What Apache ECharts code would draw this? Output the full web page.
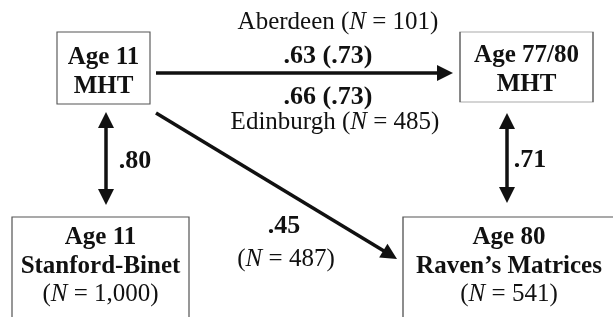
<!DOCTYPE html>
<html>
<head>
<meta charset="utf-8">
<script src="https://cdn.jsdelivr.net/npm/echarts@6/dist/echarts.min.js"></script>
<style>
  html, body { margin: 0; padding: 0; background: #fff; }
  #chart { width: 613px; height: 317px; }
</style>
</head>
<body>
<div id="chart"></div>
<script>
// measures shown in the boxes
const measureAge = ['Age 11', 'Age 77/80', 'Age 11', 'Age 80'];
const measureTest = ['MHT', 'MHT', 'Stanford-Binet', 'Raven\u2019s Matrices'];
const measureN = [null, null, '1,000', '541'];

// Age 11 MHT -> Age 77/80 MHT, per cohort (raw r, corrected r in brackets)
const cohorts = ['Aberdeen', 'Edinburgh'];
const cohortN = [101, 485];
const cohortR = ['.63', '.66'];
const cohortRCorrected = ['.73', '.73'];

// the other paths
const mhtSbR = '.80';        // Age 11 MHT <-> Stanford-Binet
const lateMhtRavenR = '.71'; // Age 77/80 MHT <-> Raven
const mhtRavenR = '.45';     // Age 11 MHT -> Raven
const mhtRavenN = 487;

// ---- layout (pixel space of the 613x317 page, y down) ----
const boxes = [
  { x: 57, y: 32, w: 93, h: 72, pos: 'inside', dy: 4 },
  { x: 460, y: 32, w: 133, h: 70, pos: 'inside', dy: 3 },
  { x: 12, y: 217, w: 177, h: 120, pos: 'insideTop', dy: 0 },
  { x: 403, y: 217, w: 212, h: 120, pos: 'insideTop', dy: 0 }
];
const arrows = [
  { from: [156, 73], to: [453, 73], both: false },
  { from: [106, 112], to: [106, 205], both: true },
  { from: [507, 113], to: [507, 203], both: true },
  { from: [156, 113], to: [397, 259], both: false }
];
const pathLabelPos = [[338, 22], [328, 56], [328, 97], [335, 122], [135, 161], [530, 160], [284, 226], [286, 259]];
const HEAD = [16, 16];

const F = '"Liberation Serif", "Times New Roman", serif';
const INK = '#111';
const rich = {
  b: { fontFamily: F, fontWeight: 'bold', fontSize: 25, lineHeight: 29, color: INK },
  bl: { fontFamily: F, fontWeight: 'bold', fontSize: 26, lineHeight: 29, color: INK },
  r: { fontFamily: F, fontSize: 25, lineHeight: 27, color: INK },
  i: { fontFamily: F, fontStyle: 'italic', fontSize: 25, lineHeight: 27, color: INK }
};
const nText = n => '{r|(}{i|N}{r| = ' + n + ')}';

const boxData = boxes.map((b, k) => {
  let text = '{b|' + measureAge[k] + '}\n{b|' + measureTest[k] + '}';
  if (measureN[k]) text += '\n' + nText(measureN[k]);
  return {
    value: [b.x + b.w / 2, b.y + b.h / 2],
    symbolSize: [b.w, b.h],
    label: { position: b.pos, distance: 6, offset: [0, b.dy], formatter: text }
  };
});

const pathTexts = [
  '{r|' + cohorts[0] + ' (}{i|N}{r| = ' + cohortN[0] + ')}',
  '{bl|' + cohortR[0] + ' (' + cohortRCorrected[0] + ')}',
  '{bl|' + cohortR[1] + ' (' + cohortRCorrected[1] + ')}',
  '{r|' + cohorts[1] + ' (}{i|N}{r| = ' + cohortN[1] + ')}',
  '{bl|' + mhtSbR + '}',
  '{bl|' + lateMhtRavenR + '}',
  '{bl|' + mhtRavenR + '}',
  nText(mhtRavenN)
];
const pathData = pathTexts.map((t, k) => ({ value: pathLabelPos[k], label: { formatter: t } }));

// pull the line ends back so the triangle tip lands on the arrow end
function pull(p, q, d) {
  const dx = q[0] - p[0], dy = q[1] - p[1];
  const len = Math.sqrt(dx * dx + dy * dy);
  return [q[0] - dx / len * d, q[1] - dy / len * d];
}
const arrowData = arrows.map(a => {
  const to = pull(a.from, a.to, HEAD[1] / 2);
  const from = a.both ? pull(a.to, a.from, HEAD[1] / 2) : a.from;
  return {
    coords: [from, to],
    symbol: [a.both ? 'triangle' : 'none', 'triangle'],
    symbolSize: HEAD
  };
});

const chart = echarts.init(document.getElementById('chart'));
chart.setOption({
  animation: false,
  backgroundColor: '#fff',
  grid: { left: 0, right: 0, top: 0, bottom: 0 },
  xAxis: { type: 'value', min: 0, max: 613, show: false },
  yAxis: { type: 'value', min: 0, max: 317, inverse: true, show: false },
  series: [
    {
      type: 'scatter',
      silent: true,
      clip: false,
      symbol: 'rect',
      itemStyle: { color: '#fff', borderColor: '#555', borderWidth: 1, opacity: 1 },
      label: { show: true, rich: rich, align: 'center' },
      data: boxData
    },
    {
      type: 'lines',
      coordinateSystem: 'cartesian2d',
      silent: true,
      lineStyle: { color: INK, width: 3.5, opacity: 1 },
      itemStyle: { color: INK },
      data: arrowData
    },
    {
      type: 'scatter',
      silent: true,
      symbolSize: 0,
      itemStyle: { opacity: 1 },
      label: { show: true, position: 'inside', rich: rich, align: 'center', opacity: 1 },
      data: pathData
    }
  ]
});
</script>
</body>
</html>
